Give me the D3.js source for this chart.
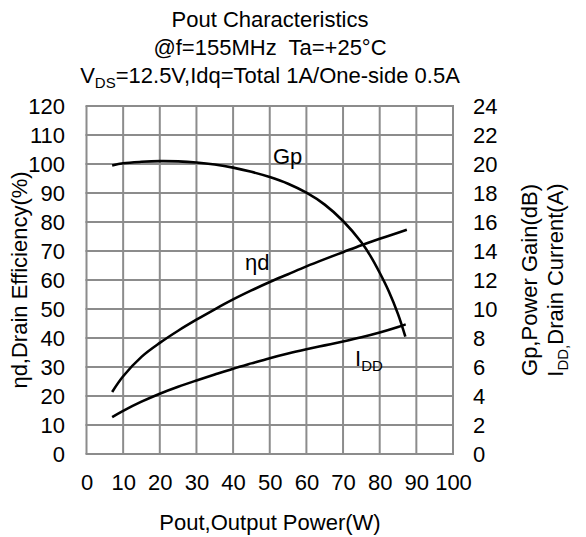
<!DOCTYPE html>
<html>
<head>
<meta charset="utf-8">
<script src="https://cdn.jsdelivr.net/npm/d3@7"></script>
<style>
  html, body { margin: 0; padding: 0; background: #fff; }
  svg { display: block; }
  text { font-family: "Liberation Sans", Arial, sans-serif; fill: #000; }
</style>
</head>
<body>
<svg id="chart" width="586" height="537"></svg>
<script>
// Output power axis (W)
const xTicks = [0, 10, 20, 30, 40, 50, 60, 70, 80, 90, 100];
// Left axis: drain efficiency (%)
const leftTicks = [0, 10, 20, 30, 40, 50, 60, 70, 80, 90, 100, 110, 120];
// Right axis: power gain (dB) / drain current (A)
const rightTicks = [0, 2, 4, 6, 8, 10, 12, 14, 16, 18, 20, 22, 24];

// Gp, power gain (dB) vs Pout (W)
const gpPout = [7, 10, 15, 20, 25, 30, 35, 40, 45, 50, 55, 60, 65, 70, 75, 77.5, 80, 82.5, 85, 87];
const gpVal  = [19.9, 20.05, 20.15, 20.2, 20.18, 20.1, 19.96, 19.75, 19.46, 19.1, 18.64, 18.02, 17.2, 16.07, 14.6, 13.65, 12.5, 11.21, 9.65, 8.1];

// ηd, drain efficiency (%) vs Pout (W)
const etaPout = [7, 10, 15, 20, 25, 30, 35, 40, 45, 50, 55, 60, 65, 70, 75, 80, 85, 87.4];
const etaVal  = [21.4, 26.8, 33.5, 38.3, 42.5, 46.3, 49.9, 53.3, 56.4, 59.3, 62.0, 64.7, 67.2, 69.6, 72.0, 74.2, 76.3, 77.3];

// IDD, drain current (A) vs Pout (W)
const iddPout = [7, 10, 15, 20, 25, 30, 35, 40, 45, 50, 55, 60, 65, 70, 75, 80, 85, 87.1];
const iddVal  = [2.55, 2.98, 3.61, 4.16, 4.64, 5.07, 5.48, 5.88, 6.25, 6.61, 6.93, 7.22, 7.49, 7.76, 8.05, 8.38, 8.76, 8.94];

const svg = d3.select("#chart");
const plot = { left: 86.5, right: 453, top: 106, bottom: 454 };
const fs = 22;

const x = d3.scaleLinear().domain([0, 100]).range([plot.left, plot.right]);
const yL = d3.scaleLinear().domain([0, 120]).range([plot.bottom, plot.top]);
const yR = d3.scaleLinear().domain([0, 24]).range([plot.bottom, plot.top]);

// grid
const grid = svg.append("g").attr("stroke", "#8c8c8c").attr("stroke-width", 2).attr("fill", "none");
grid.selectAll("line.v").data(xTicks).enter().append("line")
  .attr("x1", d => x(d)).attr("x2", d => x(d))
  .attr("y1", plot.top).attr("y2", plot.bottom);
grid.selectAll("line.h").data(leftTicks).enter().append("line")
  .attr("x1", plot.left - 1).attr("x2", plot.right + 1)
  .attr("y1", d => yL(d)).attr("y2", d => yL(d));

// axes (labels only, lines come from the grid)
const axL = d3.axisLeft(yL).tickValues(leftTicks).tickSize(0).tickPadding(0);
const axR = d3.axisRight(yR).tickValues(rightTicks).tickSize(0).tickPadding(0);
const axB = d3.axisBottom(x).tickValues(xTicks).tickSize(0).tickPadding(0);

function styleAxis(g) {
  g.select(".domain").remove();
  g.selectAll("text").attr("font-size", fs).attr("font-family", '"Liberation Sans", Arial, sans-serif').attr("fill", "#000");
}
svg.append("g").attr("transform", "translate(65,0)").call(axL).call(styleAxis)
  .selectAll("text").attr("dy", "0.36em");
svg.append("g").attr("transform", "translate(473,0)").call(axR).call(styleAxis)
  .selectAll("text").attr("dy", "0.36em");
svg.append("g").attr("transform", "translate(0,474)").call(axB).call(styleAxis)
  .selectAll("text").attr("dy", "0.72em");

// curves
const line = (ys) => d3.line().x(d => x(d[0])).y(d => ys(d[1])).curve(d3.curveCatmullRom.alpha(0.5));
const curves = [
  { px: gpPout, v: gpVal, s: yR },
  { px: etaPout, v: etaVal, s: yL },
  { px: iddPout, v: iddVal, s: yR }
];
curves.forEach(c => {
  svg.append("path")
    .datum(c.px.map((p, i) => [p, c.v[i]]))
    .attr("d", line(c.s))
    .attr("fill", "none").attr("stroke", "#000").attr("stroke-width", 2.6);
});

// curve labels
svg.append("text").attr("x", 273).attr("y", 164).attr("font-size", fs).text("Gp");
svg.append("text").attr("x", 245).attr("y", 270).attr("font-size", fs).text("ηd");
const idd = svg.append("text").attr("x", 355).attr("y", 366).attr("font-size", fs);
idd.append("tspan").text("I");
idd.append("tspan").attr("font-size", 15).attr("dy", 5).text("DD");

// title
const cx = 270;
svg.append("text").attr("x", cx).attr("y", 27).attr("text-anchor", "middle").attr("font-size", fs)
  .text("Pout Characteristics");
svg.append("text").attr("x", cx).attr("y", 55).attr("text-anchor", "middle").attr("font-size", fs)
  .attr("xml:space", "preserve").style("white-space", "pre")
  .text("@f=155MHz  Ta=+25°C");
const t3 = svg.append("text").attr("x", cx).attr("y", 83).attr("text-anchor", "middle").attr("font-size", fs);
t3.append("tspan").text("V");
t3.append("tspan").attr("font-size", 15).attr("dy", 5).text("DS");
t3.append("tspan").attr("dy", -5).text("=12.5V,Idq=Total 1A/One-side 0.5A");

// axis titles
svg.append("text").attr("x", cx).attr("y", 530).attr("text-anchor", "middle").attr("font-size", fs)
  .text("Pout,Output Power(W)");
const midY = (plot.top + plot.bottom) / 2;
svg.append("text").attr("transform", `translate(27,${midY}) rotate(-90)`)
  .attr("text-anchor", "middle").attr("font-size", fs)
  .text("ηd,Drain Efficiency(%)");
svg.append("text").attr("transform", `translate(537,${midY}) rotate(-90)`)
  .attr("text-anchor", "middle").attr("font-size", fs)
  .text("Gp,Power Gain(dB)");
const r2 = svg.append("text").attr("transform", `translate(563,${midY}) rotate(-90)`)
  .attr("text-anchor", "middle").attr("font-size", fs);
r2.append("tspan").text("I");
r2.append("tspan").attr("font-size", 15).attr("dy", 5).text("DD,");
r2.append("tspan").attr("dy", -5).text("Drain Current(A)");
</script>
</body>
</html>
